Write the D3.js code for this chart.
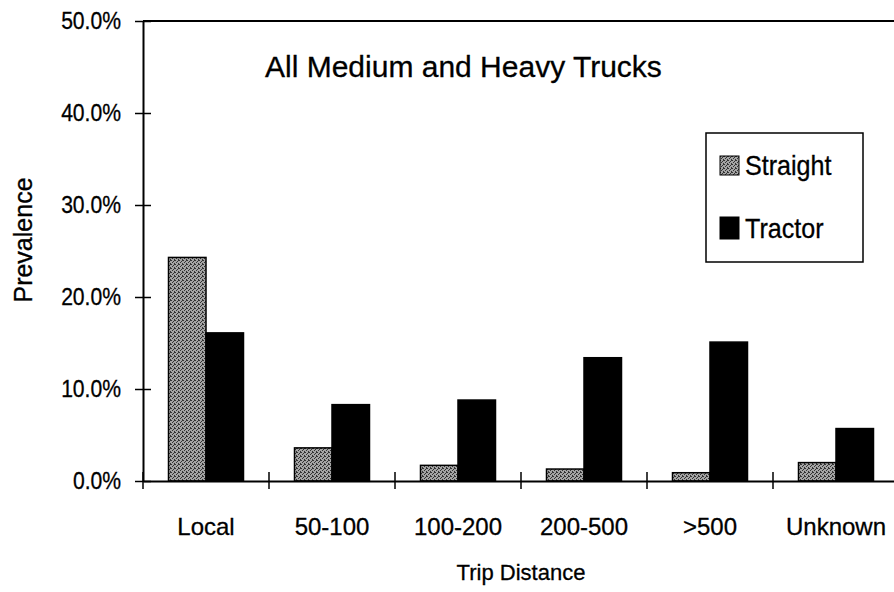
<!DOCTYPE html>
<html>
<head>
<meta charset="utf-8">
<script src="https://cdn.jsdelivr.net/npm/d3@7"></script>
<style>
	body { margin: 0; background: #fff; }
	text { font-family: "Liberation Sans", Arial, sans-serif; fill: #000; }
</style>
</head>
<body>
<div id="chart"></div>
<script>
const CATEGORIES = ["Local", "50-100", "100-200", "200-500", ">500", "Unknown"];
const SERIES = ["Straight", "Tractor"];
const STRAIGHT = [24.3, 3.6, 1.7, 1.3, 0.9, 2.0];
const TRACTOR = [16.1, 8.3, 8.8, 13.4, 15.1, 5.7];
const Y_TICKS = [0, 10, 20, 30, 40, 50];

const TITLE = "All Medium and Heavy Trucks";
const X_TITLE = "Trip Distance";
const Y_TITLE = "Prevalence";

var width = 894;
var height = 592;
var margin = {
	'top': 21,
	'bottom': 111,
	'left': 143,
	'right': -5,
};

var svg = d3.select('#chart').append('svg')
	.attr('width', width)
	.attr('height', height);

// stipple fill for the straight trucks
var defs = svg.append('defs');
var pat = defs.append('pattern')
	.attr('id', 'stipple')
	.attr('width', 4)
	.attr('height', 4)
	.attr('patternUnits', 'userSpaceOnUse');
pat.append('rect').attr('width', 4).attr('height', 4).attr('fill', '#a4a4a4');
[[0, 0], [2, 1], [1, 2], [3, 3], [3, 0]].forEach(function(p) {
	pat.append('rect').attr('x', p[0]).attr('y', p[1])
		.attr('width', 1).attr('height', 1).attr('fill', '#333');
});

var data = CATEGORIES.map(function(c, i) {
	return { cat: c, values: [STRAIGHT[i], TRACTOR[i]] };
});

// narrow the text horizontally like the scanned original
function squeeze(sel, sx) {
	sel.each(function() {
		var t = d3.select(this);
		var x = +t.attr('x') || 0;
		t.attr('x', x / sx).attr('transform', (t.attr('transform') || '') + ' scale(' + sx + ',1)');
	});
}

// scales
var x0 = d3.scaleBand()
	.domain(CATEGORIES)
	.range([margin.left, width - margin.right]);
var x1 = d3.scaleBand()
	.domain(SERIES)
	.range([0, x0.bandwidth()])
	.paddingOuter(0.68);
var y = d3.scaleLinear()
	.domain([0, 50])
	.range([height - margin.bottom, margin.top]);

var fills = ['url(#stipple)', '#000'];

// plot frame (top line)
svg.append('line')
	.attr('x1', margin.left).attr('x2', width - margin.right)
	.attr('y1', y(50)).attr('y2', y(50))
	.attr('stroke', '#000').attr('stroke-width', 2);

// bars
var groups = svg.append('g').attr('class', 'bars')
	.selectAll('g')
	.data(data)
	.enter().append('g')
	.attr('transform', function(d) { return 'translate(' + x0(d.cat) + ',0)'; });

groups.selectAll('rect')
	.data(function(d) { return d.values.map(function(v, i) { return { s: SERIES[i], v: v, i: i }; }); })
	.enter().append('rect')
	.attr('x', function(d) { return x1(d.s); })
	.attr('y', function(d) { return y(d.v); })
	.attr('width', x1.bandwidth())
	.attr('height', function(d) { return y(0) - y(d.v); })
	.attr('fill', function(d) { return fills[d.i]; })
	.attr('stroke', '#000')
	.attr('stroke-width', 1.5);

// y axis
var yAxis = svg.append('g')
	.attr('transform', 'translate(' + margin.left + ',0)')
	.call(d3.axisLeft(y)
		.tickValues(Y_TICKS)
		.tickFormat(function(d) { return d.toFixed(1) + '%'; })
		.tickSizeInner(8)
		.tickSizeOuter(0)
		.tickPadding(14));
yAxis.select('.domain').attr('stroke-width', 2);
yAxis.selectAll('.tick line').attr('x2', -8).attr('x1', 8).attr('stroke-width', 1.5);
yAxis.selectAll('text')
	.style('font-size', '24px')
	.style('font-family', '"Liberation Sans", Arial, sans-serif')
	.attr('stroke', '#000').attr('stroke-width', 0.3);
squeeze(yAxis.selectAll('text'), 0.88);

// x axis
var xAxis = svg.append('g')
	.attr('transform', 'translate(0,' + y(0) + ')')
	.call(d3.axisBottom(x0).tickSize(0).tickPadding(37));
xAxis.select('.domain').attr('stroke-width', 2);
xAxis.selectAll('text')
	.style('font-size', '24px')
	.style('font-family', '"Liberation Sans", Arial, sans-serif')
	.attr('stroke', '#000').attr('stroke-width', 0.3);

// band boundary ticks, crossing the axis
var bounds = CATEGORIES.map(function(c) { return x0(c); }).concat([x0.range()[1]]);
svg.append('g').selectAll('line')
	.data(bounds)
	.enter().append('line')
	.attr('x1', function(d) { return d; }).attr('x2', function(d) { return d; })
	.attr('y1', y(0) - 9).attr('y2', y(0) + 8)
	.attr('stroke', '#000').attr('stroke-width', 1.5);

// axis titles
svg.append('text')
	.attr('x', (margin.left + width - margin.right) / 2)
	.attr('y', 580)
	.attr('text-anchor', 'middle')
	.attr('stroke', '#000').attr('stroke-width', 0.3)
	.style('font-size', '22px')
	.text(X_TITLE);

svg.append('text')
	.attr('transform', 'translate(32,' + 240 + ') rotate(-90)')
	.attr('text-anchor', 'middle')
	.attr('stroke', '#000').attr('stroke-width', 0.3)
	.style('font-size', '25px')
	.text(Y_TITLE);

// chart title
svg.append('text')
	.attr('x', 265)
	.attr('y', 77)
	.attr('stroke', '#000').attr('stroke-width', 0.3)
	.style('font-size', '30px')
	.text(TITLE);

// legend
var legend = svg.append('g').attr('transform', 'translate(706,133)');
legend.append('rect')
	.attr('width', 157).attr('height', 129)
	.attr('fill', '#fff').attr('stroke', '#000').attr('stroke-width', 1.5);

var items = legend.selectAll('g.item')
	.data(SERIES)
	.enter().append('g')
	.attr('class', 'item')
	.attr('transform', function(d, i) { return 'translate(14,' + (23 + i * 63) + ')'; });
items.append('rect')
	.attr('y', function(d, i) { return i ? -2 : 0; })
	.attr('width', 19)
	.attr('height', function(d, i) { return i ? 22 : 19; })
	.attr('fill', function(d, i) { return fills[i]; })
	.attr('stroke', '#000').attr('stroke-width', 1);
var legendText = items.append('text')
	.attr('x', 25).attr('y', 19)
	.attr('stroke', '#000').attr('stroke-width', 0.3)
	.style('font-size', '27px')
	.text(function(d) { return d; });
squeeze(legendText, 0.93);
</script>
</body>
</html>
